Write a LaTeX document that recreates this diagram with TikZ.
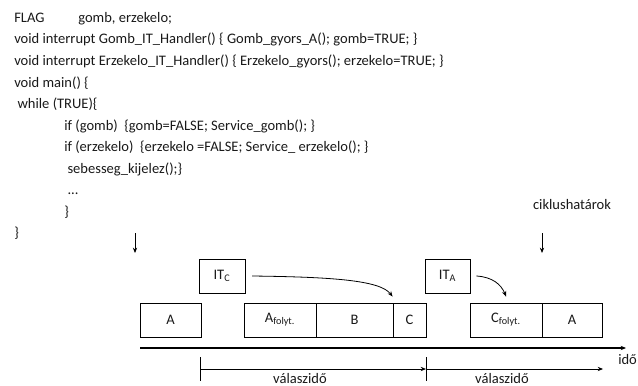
\documentclass[tikz,border=0pt]{standalone}
\usepackage{fontspec}
\setmainfont{Carlito}
\usetikzlibrary{arrows.meta}
\begin{document}
\begin{tikzpicture}[x=0.75pt,y=-0.75pt,
  every node/.style={font=\fontsize{10.9}{12}\selectfont, text=black!90},
  code/.style={anchor=base west, inner sep=0pt},
  slot/.style={draw, line width=0.7pt, minimum height=25.5pt, inner sep=0pt},
  itbox/.style={slot},
  tip/.style={-{Stealth[length=4pt,width=3.2pt]}}]
\useasboundingbox (0,0) rectangle (638,385);

% program text
\node[code] (l1) at (14,22.5) {\makebox[48pt][l]{FLAG}gomb, erzekelo;};
\node[code] (l2) at (14,44) {void interrupt Gomb\_IT\_Handler() \{ Gomb\_gyors\_A(); gomb=TRUE; \}};
\node[code] (l3) at (14,65.5) {void interrupt Erzekelo\_IT\_Handler() \{ Erzekelo\_gyors(); erzekelo=TRUE; \}};
\node[code] (l4) at (14,87) {void main() \{};
\node[code] (l5) at (14,108.5) {\ while (TRUE)\{};
\node[code] (l6) at (64,130) {if (gomb)\ \ \{gomb=FALSE; Service\_gomb(); \}};
\node[code] (l7) at (64,151.5) {if (erzekelo)\ \ \{erzekelo =FALSE; Service\_ erzekelo(); \}};
\node[code] (l8) at (64,173) {\ sebesseg\_kijelez();\}};
\node[code] (l9) at (64,194.5) {\ ...};
\node[code] (l10) at (64,216) {\}};
\node[code] (l11) at (14,237.5) {\}};
\node[code, anchor=base] (cik) at (572,209) {ciklushatárok};

% cycle boundaries
\coordinate (d1a) at (135,233); \coordinate (d1b) at (135,253);
\coordinate (d2a) at (542,233); \coordinate (d2b) at (542,253);
\draw[tip, line width=0.6pt] (d1a) -- (d1b);
\draw[tip, line width=0.6pt] (d2a) -- (d2b);

% execution slots
\node[slot, minimum width=45.75pt] (a1) at (170.5,320) {A};
\node[slot, minimum width=54pt] (af) at (280,320) {A\textsubscript{folyt.}};
\node[slot, minimum width=57.75pt] (b) at (354.5,320) {B};
\node[slot, minimum width=24.75pt] (c) at (409.5,320) {C};
\node[slot, minimum width=54pt] (cf) at (506,320) {C\textsubscript{folyt.}};
\node[slot, minimum width=45pt] (a2) at (572,320) {A};

% interrupt requests
\node[itbox, minimum width=34.5pt] (itc) at (222,276) {IT\textsubscript{C}};
\node[itbox, minimum width=33.75pt] (ita) at (447.5,276) {IT\textsubscript{A}};
\draw[tip, line width=0.6pt] ([xshift=5pt]itc.east) .. controls (330,277) and (380,280) .. ([yshift=4.5pt]c.north west);
\draw[tip, line width=0.6pt] ([xshift=4.5pt]ita.east) .. controls (492,277) and (501,284) .. ([yshift=4.5pt]cf.north);

% time axis
\coordinate (t0) at (140,348); \coordinate (t1) at (626,348);
\draw[tip, line width=1.3pt] (t0) -- (t1);
\node[code] (ido) at (618,364) {idő};

% response times
\coordinate (r0) at (200,369); \coordinate (r1) at (426,369); \coordinate (r2) at (603,369);
\draw[line width=0.6pt] (200,357) -- (200,381);
\draw[line width=0.6pt] (426,357) -- (426,381);
\draw[tip, line width=0.6pt] (r0) -- (r1);
\draw[tip, line width=0.6pt] (r1) -- (r2);
\node[code, anchor=base] (v1) at (300,383) {válaszidő};
\node[code, anchor=base] (v2) at (502,383) {válaszidő};
\end{tikzpicture}
\end{document}
